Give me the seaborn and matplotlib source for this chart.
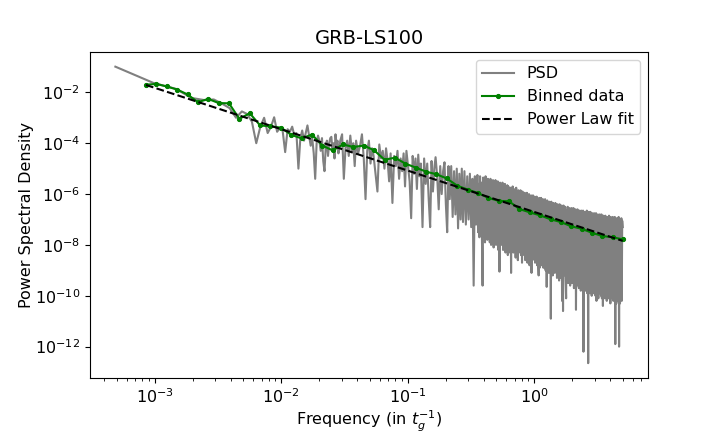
import numpy as np
import matplotlib
matplotlib.use("Agg")
import matplotlib.pyplot as plt
import seaborn as sns

plt.rcParams["font.size"] = 11.5

# raw PSD: FFT bin index (df = 1/2048 t_g^-1) and log10 power
freq_step = 1.0 / 2048
psd_bin = [
    1, 2, 3, 4, 5, 6, 7, 8, 9, 10,
    11, 12, 13, 14, 15, 16, 17, 18, 19, 20,
    21, 22, 23, 24, 25, 26, 27, 28, 29, 30,
    31, 32, 33, 34, 35, 36, 37, 38, 39, 40,
    41, 42, 43, 44, 45, 46, 47, 48, 49, 50,
    51, 52, 53, 54, 55, 56, 57, 58, 59, 60,
    62, 64, 66, 68, 70, 72, 74, 76, 78, 80,
    83, 86, 89, 92, 95, 98, 101, 104, 107, 110,
    114, 118, 122, 126, 130, 134, 138, 142, 146, 150,
    155, 160, 165, 170, 175, 180, 185, 190, 195, 200,
    206, 212, 218, 224, 230, 236, 242, 248, 254, 260,
    268, 276, 284, 292, 300, 308, 316, 324, 332, 340,
    350, 360, 370, 380, 390, 400, 410, 420, 430, 440,
    452, 464, 476, 488, 500, 512, 524, 536, 548, 560,
    575, 590, 605, 620, 635, 650, 665, 680, 695, 710,
    728, 737, 746, 755, 764, 773, 782, 791, 800, 809,
    818, 827, 836, 845, 854, 863, 872, 881, 890, 899,
    912, 923, 934, 945, 956, 967, 978, 989, 1000, 1011,
    1022, 1033, 1044, 1055, 1066, 1077, 1088, 1099, 1110, 1121,
    1136, 1149, 1162, 1175, 1188, 1201, 1214, 1227, 1240, 1253,
    1266, 1279, 1292, 1305, 1318, 1331, 1344, 1357, 1370, 1383,
    1400, 1415, 1430, 1445, 1460, 1475, 1490, 1505, 1520, 1535,
    1550, 1565, 1580, 1595, 1610, 1625, 1640, 1655, 1670, 1685,
    1705, 1722, 1740, 1757, 1775, 1792, 1810, 1827, 1845, 1862,
    1880, 1897, 1915, 1932, 1950, 1967, 1985, 2002, 2020, 2040,
    2060, 2080, 2100, 2120, 2140, 2160, 2180, 2200, 2220, 2240,
    2260, 2280, 2300, 2320, 2340, 2360, 2380, 2400, 2420, 2445,
    2470, 2495, 2520, 2545, 2570, 2595, 2620, 2645, 2670, 2695,
    2720, 2745, 2770, 2795, 2820, 2845, 2870, 2895, 2920, 2950,
    2980, 3010, 3040, 3070, 3100, 3130, 3160, 3190, 3220, 3250,
    3280, 3310, 3340, 3370, 3400, 3430, 3460, 3490, 3520, 3555,
    3590, 3625, 3660, 3695, 3730, 3765, 3800, 3835, 3870, 3905,
    3940, 3975, 4010, 4045, 4080, 4115, 4150, 4185, 4220, 4260,
    4300, 4340, 4380, 4420, 4460, 4500, 4540, 4580, 4620, 4660,
    4700, 4740, 4780, 4820, 4860, 4900, 4940, 4980, 5020, 5065,
    5110, 5155, 5200, 5245, 5290, 5335, 5380, 5425, 5470, 5515,
    5560, 5605, 5650, 5695, 5740, 5785, 5830, 5875, 5920, 5975,
    6030, 6085, 6140, 6195, 6250, 6305, 6360, 6415, 6470, 6525,
    6580, 6635, 6690, 6745, 6800, 6855, 6910, 6965, 7020, 7085,
    7150, 7215, 7280, 7345, 7410, 7475, 7540, 7605, 7670, 7735,
    7800, 7865, 7930, 7995, 8060, 8125, 8190, 8255, 8320, 8400,
    8480, 8560, 8640, 8720, 8800, 8880, 8960, 9040, 9120, 9200,
    9280, 9360, 9440, 9520, 9600, 9680, 9760, 9840, 9920, 10000,
    10080, 10160, 10240,
]
psd_log10 = [
    -0.99, -1.63, -1.86, -2.22, -2.30, -2.28, -2.45, -2.62, -3.00, -2.75,
    -2.85, -3.15, -4.00, -3.35, -3.00, -3.60, -3.35, -2.98, -3.55, -3.40,
    -3.50, -4.35, -3.45, -3.55, -3.35, -3.70, -3.60, -5.00, -3.80, -3.50,
    -3.90, -3.60, -3.30, -3.70, -4.10, -3.80, -4.40, -5.40, -4.00, -3.70,
    -3.90, -4.30, -3.80, -4.70, -5.10, -4.20, -3.90, -4.50, -4.00, -3.80,
    -3.75, -4.30, -4.00, -4.60, -3.65, -4.10, -3.90, -4.40, -4.20, -3.90,
    -3.65, -5.40, -4.20, -3.90, -4.50, -3.70, -4.30, -4.00, -4.90, -3.90,
    -4.40, -4.10, -3.65, -4.60, -6.20, -4.30, -3.90, -4.80, -4.20, -4.50,
    -5.20, -5.90, -4.05, -4.60, -4.30, -5.00, -4.20, -4.70, -5.50, -4.40,
    -6.35, -4.50, -4.90, -4.30, -5.40, -4.60, -5.10, -4.40, -5.70, -4.30,
    -4.90, -5.50, -6.95, -4.50, -5.20, -4.60, -5.80, -4.45, -5.30, -4.80,
    -7.30, -4.60, -5.60, -4.80, -6.20, -7.30, -4.70, -5.90, -5.00, -4.55,
    -5.30, -6.60, -4.90, -6.00, -5.10, -4.75, -6.40, -7.50, -4.90, -6.20,
    -4.90, -6.90, -5.10, -6.80, -5.00, -7.35, -5.20, -7.00, -5.00, -7.10,
    -5.10, -7.20, -5.30, -7.00, -5.20, -7.30, -5.40, -9.60, -5.30, -7.20,
    -5.25, -7.50, -5.60, -7.70, -5.30, -7.40, -5.55, -7.80, -9.60, -5.35,
    -7.60, -5.65, -7.90, -5.30, -7.50, -5.70, -7.80, -5.40, -7.60, -5.60,
    -7.90, -5.40, -8.00, -5.75, -7.70, -5.45, -8.10, -5.70, -7.80, -5.45,
    -8.00, -5.80, -7.90, -5.50, -8.20, -5.85, -9.05, -5.55, -7.90, -5.75,
    -8.00, -5.55, -8.20, -5.85, -7.90, -5.60, -8.30, -5.90, -8.10, -5.65,
    -8.40, -5.70, -8.00, -5.95, -8.30, -5.75, -9.10, -5.90, -8.20, -5.70,
    -8.30, -5.80, -8.10, -6.00, -8.50, -5.75, -8.20, -6.05, -8.60, -5.85,
    -8.30, -6.05, -8.00, -5.85, -8.40, -6.10, -8.70, -5.90, -8.30, -6.05,
    -8.40, -5.95, -8.60, -6.20, -8.30, -5.95, -8.70, -6.15, -8.50, -6.00,
    -8.80, -6.25, -8.40, -6.05, -9.10, -6.20, -8.60, -6.05, -8.50, -6.25,
    -6.10, -8.70, -6.30, -8.50, -6.10, -8.80, -6.35, -8.60, -9.20, -6.15,
    -8.90, -6.35, -8.60, -6.15, -8.80, -6.40, -8.50, -6.20, -8.90, -6.35,
    -8.80, -6.20, -9.00, -6.45, -9.65, -6.25, -8.70, -6.45, -9.10, -6.30,
    -8.90, -6.50, -10.90, -6.30, -8.80, -6.50, -9.20, -6.35, -8.90, -6.55,
    -9.10, -6.35, -9.00, -6.55, -9.30, -6.40, -9.10, -6.60, -9.40, -6.40,
    -9.00, -6.65, -9.30, -6.45, -10.20, -6.60, -10.60, -6.45, -9.20, -6.65,
    -6.50, -9.30, -10.10, -6.65, -9.20, -6.50, -9.50, -6.70, -9.30, -6.55,
    -9.60, -6.75, -9.20, -6.55, -9.50, -6.70, -9.40, -6.55, -9.70, -6.75,
    -9.50, -6.60, -10.55, -6.75, -9.60, -6.60, -9.40, -6.80, -9.70, -6.65,
    -9.50, -6.85, -9.80, -6.65, -9.60, -6.80, -9.50, -6.65, -12.20, -6.85,
    -9.70, -6.70, -9.80, -6.85, -9.60, -6.65, -9.90, -6.90, -12.65, -6.70,
    -9.70, -6.90, -9.90, -6.70, -9.60, -6.85, -10.00, -6.75, -9.70, -6.95,
    -9.90, -6.75, -9.80, -6.95, -10.00, -6.75, -10.20, -6.90, -9.80, -6.80,
    -10.10, -6.95, -9.90, -6.80, -9.70, -7.00, -10.00, -6.80, -10.10, -6.95,
    -10.40, -6.85, -9.90, -7.00, -10.10, -6.85, -10.00, -7.05, -10.20, -6.90,
    -9.90, -7.05, -10.10, -6.85, -10.00, -7.00, -10.30, -6.90, -10.00, -7.05,
    -10.10, -6.90, -10.20, -7.05, -10.00, -6.90, -11.90, -7.05, -10.30, -6.95,
    -10.10, -7.10, -10.20, -6.90, -12.00, -7.00, -10.30, -7.10, -10.10, -6.95,
    -10.20, -7.05, -7.30,
]

# log-binned PSD
bin_freq = [
    8.53e-4, 1.03e-3, 1.245e-3, 1.503e-3, 1.816e-3, 2.193e-3, 2.649e-3, 3.199e-3,
    3.864e-3, 4.667e-3, 5.636e-3, 6.808e-3, 8.222e-3, 9.93e-3, 1.199e-2, 1.449e-2,
    1.750e-2, 2.113e-2, 2.553e-2, 3.083e-2, 3.724e-2, 4.498e-2, 5.433e-2, 6.561e-2,
    7.925e-2, 9.572e-2, 0.1156, 0.1396, 0.1687, 0.2037, 0.2460, 0.2972,
    0.3589, 0.4335, 0.5236, 0.6324, 0.7638, 0.9226, 1.114, 1.346,
    1.626, 1.963, 2.371, 2.864, 3.459, 4.178, 5.0,
]
bin_power = [
    2.0e-2, 2.14e-2, 1.70e-2, 1.29e-2, 8.3e-3, 4.1e-3, 5.5e-3, 3.8e-3,
    3.7e-3, 9.1e-4, 1.51e-3, 5.0e-4, 4.6e-4, 4.1e-4, 2.14e-4, 1.55e-4,
    2.19e-4, 8.1e-5, 5.2e-5, 8.9e-5, 7.1e-5, 8.1e-5, 5.2e-5, 2.24e-5,
    2.69e-5, 1.58e-5, 1.10e-5, 7.6e-6, 6.0e-6, 4.1e-6, 2.14e-6, 1.51e-6,
    1.10e-6, 7.1e-7, 5.4e-7, 5.2e-7, 2.57e-7, 1.91e-7, 1.45e-7, 1.02e-7,
    7.9e-8, 5.4e-8, 4.3e-8, 3.0e-8, 2.24e-8, 2.0e-8, 1.66e-8,
]

# power law fit P = A * f^index
fit_amp = 1.98e-7
fit_index = -1.627

psd_freq = np.array(psd_bin) * freq_step
psd_power = 10.0 ** np.array(psd_log10)
bin_freq = np.array(bin_freq)
fit_power = fit_amp * bin_freq ** fit_index

fig, ax = plt.subplots(figsize=(7.2, 4.32), dpi=100)
fig.subplots_adjust(left=0.125, right=0.9, top=0.88, bottom=0.125)
ax.set_xscale("log")
ax.set_yscale("log")

sns.lineplot(x=psd_freq, y=psd_power, color="grey", label="PSD",
             sort=False, errorbar=None, ax=ax)
sns.lineplot(x=bin_freq, y=bin_power, color="green", marker=".",
             markersize=6, markeredgecolor="green", label="Binned data",
             sort=False, errorbar=None, ax=ax)
sns.lineplot(x=bin_freq, y=fit_power, color="black", linestyle="--",
             label="Power Law fit", sort=False, errorbar=None, ax=ax)

ax.set_title("GRB-LS100", fontsize=14)
ax.set_xlabel("Frequency (in $t_g^{-1}$)", labelpad=1.5)
ax.set_ylabel("Power Spectral Density", labelpad=1)
ax.legend(loc="upper right")

fig.savefig("out.png", dpi=100)
